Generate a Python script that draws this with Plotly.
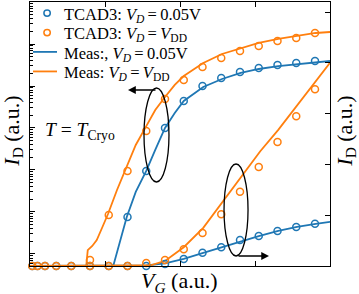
import plotly.graph_objects as go

# ---------------- data ----------------
vg_tcad = [0.03, 0.1, 0.2, 0.35, 0.55, 0.8, 1.05, 1.3, 1.55, 1.8, 2.05, 2.3, 2.55, 2.8, 3.05, 3.3, 3.55, 3.8]

# TCAD, log axis (left)
tcad_log_low = [None, None, None, None, None, None, None, 7.6e-6, 9.5e-5, 1.0e-3, 4.4e-3,
                1.0e-2, 1.55e-2, 2.15e-2, 2.68e-2, 3.16e-2, 3.52e-2, 3.94e-2]
tcad_log_vdd = [None, None, None, None, None, 7.2e-7, 8.5e-6, 9.5e-5, 8.5e-4, 4.9e-3, 1.39e-2,
                2.83e-2, 4.63e-2, 6.8e-2, 8.95e-2, 0.118, 0.139, 0.183]

# TCAD, linear axis (right)
tcad_lin_low = [0, 0, 0, 0, 0, 0, 0, 0, 0, 0.04, 0.14, 0.26, 0.37, 0.51, 0.59, 0.69, 0.77, 0.83]
tcad_lin_vdd = [0, 0, 0, 0, 0, 0, 0, 0, 0.06, 0.12, 0.33, 0.65, 1.02, 1.46, 1.95, 2.44, 2.95, 3.48]

# Measurements, log axis (left)
vg_meas_log_low = [1.11, 1.2, 1.29, 1.41, 1.55, 1.67, 1.8, 1.93, 2.05, 2.31, 2.56, 2.81, 3.05, 3.31, 3.56, 3.81, 4.0]
meas_log_low = [5.2e-7, 1.93e-6, 7.6e-6, 3.0e-5, 9.5e-5, 3.0e-4, 1.0e-3, 2.28e-3, 4.4e-3, 9.5e-3,
                1.47e-2, 2.04e-2, 2.54e-2, 2.99e-2, 3.34e-2, 3.72e-2, 3.94e-2]
vg_meas_log_vdd = [0.75, 0.77, 0.83, 0.89, 0.96, 1.04, 1.16, 1.29, 1.41, 1.55, 1.67, 1.8, 1.93, 2.05,
                   2.31, 2.56, 2.81, 3.05, 3.31, 3.56, 3.81, 4.0]
meas_log_vdd = [5.2e-7, 1.24e-6, 1.55e-6, 2.15e-6, 4.16e-6, 8.95e-6, 3.34e-5, 1.18e-4, 3.94e-4, 1.11e-3,
                2.68e-3, 5.47e-3, 1.06e-2, 1.73e-2, 3.52e-2, 5.78e-2, 8.02e-2, 0.106, 0.132, 0.155, 0.183, 0.193]

# Measurements, linear axis (right)
vg_meas_lin_low = [0, 1.45, 1.55, 1.8, 2.05, 2.31, 2.56, 2.81, 3.05, 3.31, 3.56, 3.81, 4.0]
meas_lin_low = [0, 0, 0.01, 0.05, 0.14, 0.26, 0.37, 0.49, 0.59, 0.69, 0.77, 0.83, 0.87]
vg_meas_lin_vdd = [0, 1.5, 1.6, 1.8, 2.05, 2.31, 2.56, 2.81, 3.07, 3.31, 3.56, 3.81, 4.0]
meas_lin_vdd = [0, 0, 0.01, 0.10, 0.37, 0.75, 1.24, 1.75, 2.26, 2.68, 3.15, 3.64, 4.0]

x_ticks = [0, 1, 2, 3, 4]
y2_ticks = [0, 1, 2, 3, 4, 5]
log_major = [10.0 ** k for k in range(-6, 1)]
log_minor = [m * 10.0 ** k for k in range(-7, 0) for m in range(2, 10)]

EQ = "\u2009=\u2009"
legend_names = [
    "TCAD3: <i>V</i><sub><i>D</i></sub>" + EQ + "0.05V",
    "TCAD3: <i>V</i><sub><i>D</i></sub>" + EQ + "<i>V</i><sub>DD</sub>",
    "Meas:, <i>V</i><sub><i>D</i></sub>" + EQ + "0.05V",
    "Meas: <i>V</i><sub><i>D</i></sub>" + EQ + "<i>V</i><sub>DD</sub>",
]
x_title = "<i>V</i><sub><i>G</i></sub> (a.u.)"
y_title = "<i>I</i><sub>D</sub> (a.u.)"

BLUE = "#1f77b4"
ORANGE = "#ff7f0e"
FONT = "Liberation Serif"

fig = go.Figure()
mk = dict(symbol="circle-open", size=7, line=dict(width=1.5))

# log axis (left)
fig.add_trace(go.Scatter(x=vg_meas_log_low, y=meas_log_low, mode="lines", name=legend_names[2],
                         line=dict(color=BLUE, width=1.8), yaxis="y", showlegend=False))
fig.add_trace(go.Scatter(x=vg_meas_log_vdd, y=meas_log_vdd, mode="lines", name=legend_names[3],
                         line=dict(color=ORANGE, width=1.8), yaxis="y", showlegend=False))
fig.add_trace(go.Scatter(x=vg_tcad, y=tcad_log_low, mode="markers", name=legend_names[0],
                         marker=dict(color=BLUE, **mk), yaxis="y", showlegend=False))
fig.add_trace(go.Scatter(x=vg_tcad, y=tcad_log_vdd, mode="markers", name=legend_names[1],
                         marker=dict(color=ORANGE, **mk), yaxis="y", showlegend=False))
# linear axis (right)
fig.add_trace(go.Scatter(x=vg_meas_lin_low, y=meas_lin_low, mode="lines", name=legend_names[2],
                         line=dict(color=BLUE, width=1.8), yaxis="y2", showlegend=False))
fig.add_trace(go.Scatter(x=vg_meas_lin_vdd, y=meas_lin_vdd, mode="lines", name=legend_names[3],
                         line=dict(color=ORANGE, width=1.8), yaxis="y2", showlegend=False))
fig.add_trace(go.Scatter(x=vg_tcad, y=tcad_lin_low, mode="markers", name=legend_names[0], cliponaxis=False,
                         marker=dict(color=BLUE, **mk), yaxis="y2", showlegend=False))
fig.add_trace(go.Scatter(x=vg_tcad, y=tcad_lin_vdd, mode="markers", name=legend_names[1], cliponaxis=False,
                         marker=dict(color=ORANGE, **mk), yaxis="y2", showlegend=False))

axis_common = dict(showline=True, linecolor="black", linewidth=1.3, ticks="inside", ticklen=5,
                   tickcolor="black", tickwidth=1, showticklabels=False, showgrid=False, zeroline=False)

# ---- legend drawn as shapes + text (compact row spacing like the reference) ----
leg_rows = [0.958, 0.884, 0.811, 0.737]
leg_colors = [BLUE, ORANGE, BLUE, ORANGE]
leg_kind = ["marker", "marker", "line", "line"]
shapes = []
annotations = []
for ry, col, kind, txt in zip(leg_rows, leg_colors, leg_kind, legend_names):
    if kind == "marker":
        shapes.append(dict(type="circle", xref="paper", yref="paper", xsizemode="pixel", ysizemode="pixel",
                           xanchor=0.057, yanchor=ry, x0=-3.2, x1=3.2, y0=-3.2, y1=3.2,
                           line=dict(color=col, width=1.5)))
    else:
        shapes.append(dict(type="line", xref="paper", yref="paper", x0=0.01, x1=0.09, y0=ry, y1=ry,
                           line=dict(color=col, width=1.8)))
    annotations.append(dict(x=0.107, y=ry - 0.007, xref="paper", yref="paper", xanchor="left",
                            yanchor="middle", showarrow=False, text=txt, font=dict(size=16.5)))

shapes += [
    dict(type="circle", xref="x", yref="y2", x0=1.52, x1=1.853, y0=1.654, y1=3.504,
         line=dict(color="black", width=1.3)),
    dict(type="circle", xref="x", yref="y2", x0=2.587, x1=2.907, y0=0.197, y1=2.008,
         line=dict(color="black", width=1.3)),
]
annotations += [
    dict(x=1.307, y=3.465, xref="x", yref="y2", ax=1.693, ay=3.465, axref="x", ayref="y2",
         text="", showarrow=True, arrowhead=2, arrowsize=1.2, arrowwidth=1.3, arrowcolor="black"),
    dict(x=3.187, y=0.197, xref="x", yref="y2", ax=2.76, ay=0.197, axref="x", ayref="y2",
         text="", showarrow=True, arrowhead=2, arrowsize=1.2, arrowwidth=1.3, arrowcolor="black"),
    dict(x=0.17, y=2.66, xref="x", yref="y2", xanchor="left", yanchor="middle", showarrow=False,
         text="<i>T</i> = <i>T</i><sub>Cryo</sub>", font=dict(size=19.5)),
    # axis titles (centred on their glyph positions in the reference)
    dict(x=0.497, y=-0.061, xref="paper", yref="paper", xanchor="center", yanchor="middle",
         showarrow=False, text=x_title, font=dict(size=22)),
    dict(x=-0.058, y=0.511, xref="paper", yref="paper", xanchor="center", yanchor="middle",
         showarrow=False, textangle=-90, text=y_title, font=dict(size=22)),
    dict(x=1.052, y=0.511, xref="paper", yref="paper", xanchor="center", yanchor="middle",
         showarrow=False, textangle=-90, text=y_title, font=dict(size=22)),
]

fig.update_layout(
    width=359, height=294,
    margin=dict(l=30, r=29, t=2, b=28, autoexpand=False),
    paper_bgcolor="white", plot_bgcolor="white",
    font=dict(family=FONT, color="black", size=16),
    showlegend=False,
    xaxis=dict(range=[0, 4], tickvals=x_ticks, mirror="ticks", **axis_common),
    yaxis=dict(type="log", range=[-6.286, 0], tickvals=log_major,
               minor=dict(tickvals=log_minor, ticks="inside", ticklen=2.5, tickcolor="black", showgrid=False),
               **axis_common),
    yaxis2=dict(overlaying="y", side="right", range=[0, 5.197], tickvals=y2_ticks, **axis_common),
    shapes=shapes,
    annotations=annotations,
)

fig.write_html("out.html", config={"displayModeBar": False},
               post_script="document.body.style.margin='0';")
